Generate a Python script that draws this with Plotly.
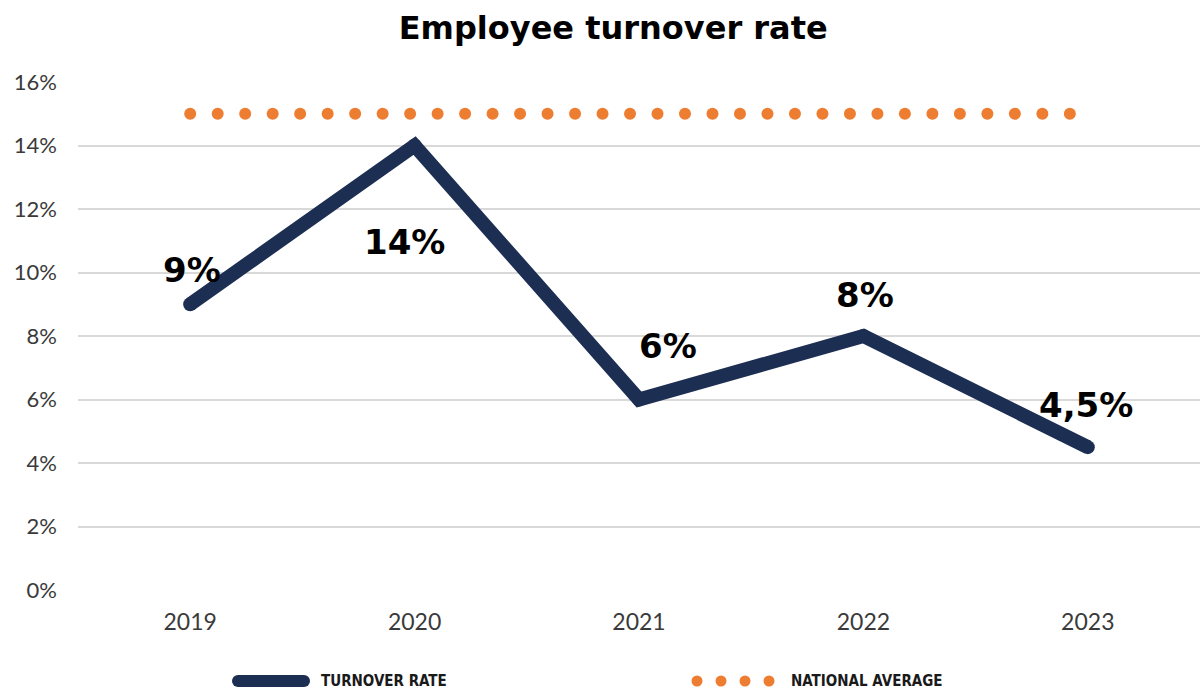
import numpy as np
import plotly.graph_objects as go

# Chart data
years = ["2019", "2020", "2021", "2022", "2023"]
turnover_rate = [9, 14, 6, 8, 4.5]          # % of employees
national_average = 15                        # % (benchmark)
y_ticks = [0, 2, 4, 6, 8, 10, 12, 14, 16]

NAVY = "#1c2e52"
ORANGE = "#ed7d31"
GRID = "#d9d9d9"
FONT = "Lato, 'Open Sans', sans-serif"
BOLD = "'DejaVu Sans', 'Open Sans', sans-serif"
NARROW = "'Liberation Sans Narrow', 'DejaVu Sans Condensed', 'Arial Narrow', sans-serif"

x_pos = np.arange(len(years))

# National average drawn as a row of round dots spanning the years
dot_step = 0.1225
dot_x = np.arange(0, x_pos[-1] - 0.05, dot_step)
dot_y = np.full(dot_x.shape, national_average)

fig = go.Figure()

fig.add_trace(go.Scatter(
    x=dot_x, y=dot_y, mode="markers",
    marker=dict(size=12, color=ORANGE, line=dict(width=0)),
    hoverinfo="skip", showlegend=False,
))

fig.add_trace(go.Scatter(
    x=x_pos, y=turnover_rate, mode="lines+markers",
    line=dict(color=NAVY, width=14),
    marker=dict(size=14, color=NAVY, line=dict(width=0)),
    showlegend=False,
))


def fmt(v):
    s = f"{v:g}".replace(".", ",")
    return s + "%"


# Label offsets (pixels) relative to each point
offsets = [(2, -34), (-10, 96), (29, -54), (2, -41), (-2, -42)]
for xi, v, (dx, dy) in zip(x_pos, turnover_rate, offsets):
    fig.add_annotation(
        x=xi, y=v, text=fmt(v), showarrow=True, arrowcolor="rgba(0,0,0,0)",
        ax=dx, ay=dy, standoff=0,
        font=dict(family=BOLD, size=34, color="#000000", weight="bold"),
    )

# Custom legend along the bottom
L = 78.0
W = 1122.0
T = 82.0
H = 508.0


def px_x(p):
    return (p - L) / W


def px_y(p):
    return (T + H - p) / H


leg_y = px_y(681)
fig.add_shape(type="line", xref="paper", yref="paper",
              x0=px_x(238), x1=px_x(304), y0=leg_y, y1=leg_y,
              line=dict(color=NAVY, width=12))
for cx in (238, 304):
    fig.add_shape(type="circle", xref="paper", yref="paper",
                  xsizemode="pixel", ysizemode="pixel",
                  xanchor=px_x(cx), yanchor=leg_y,
                  x0=-6, x1=6, y0=-6, y1=6,
                  fillcolor=NAVY, line=dict(width=0))
for cx in (697, 721, 745, 769):
    fig.add_shape(type="circle", xref="paper", yref="paper",
                  xsizemode="pixel", ysizemode="pixel",
                  xanchor=px_x(cx), yanchor=leg_y,
                  x0=-5.5, x1=5.5, y0=-5.5, y1=5.5,
                  fillcolor=ORANGE, line=dict(width=0))

fig.add_annotation(xref="paper", yref="paper", x=px_x(319), y=leg_y,
                   xanchor="left", yanchor="middle", showarrow=False,
                   text="TURNOVER RATE",
                   font=dict(family=NARROW, size=15, color="#1a1a1a", weight="bold"))
fig.add_annotation(xref="paper", yref="paper", x=px_x(789), y=leg_y,
                   xanchor="left", yanchor="middle", showarrow=False,
                   text="NATIONAL AVERAGE",
                   font=dict(family=NARROW, size=15, color="#1a1a1a", weight="bold"))

fig.update_layout(
    width=1200, height=693,
    margin=dict(l=78, r=0, t=82, b=103),
    paper_bgcolor="white", plot_bgcolor="white",
    showlegend=False,
    title=dict(text="Employee turnover rate", x=0.511, xanchor="center",
               y=0.96, yanchor="middle",
               font=dict(family=BOLD, size=32, color="#000000", weight="bold")),
    xaxis=dict(
        range=[-0.5, 4.5], tickvals=list(x_pos), ticktext=years,
        showgrid=False, zeroline=False, showline=False, ticks="",
        tickfont=dict(family=FONT, size=23, color="#3a3a3a"),
        ticklabelstandoff=16,
    ),
    yaxis=dict(
        range=[0, 16], tickvals=y_ticks, ticktext=[f"{t}%" for t in y_ticks],
        showgrid=True, gridcolor=GRID, gridwidth=2,
        zeroline=False, showline=False, ticks="",
        tickfont=dict(family=FONT, size=22, color="#3a3a3a"),
        ticklabelstandoff=20,
    ),
)

fig.write_html("out.html")
